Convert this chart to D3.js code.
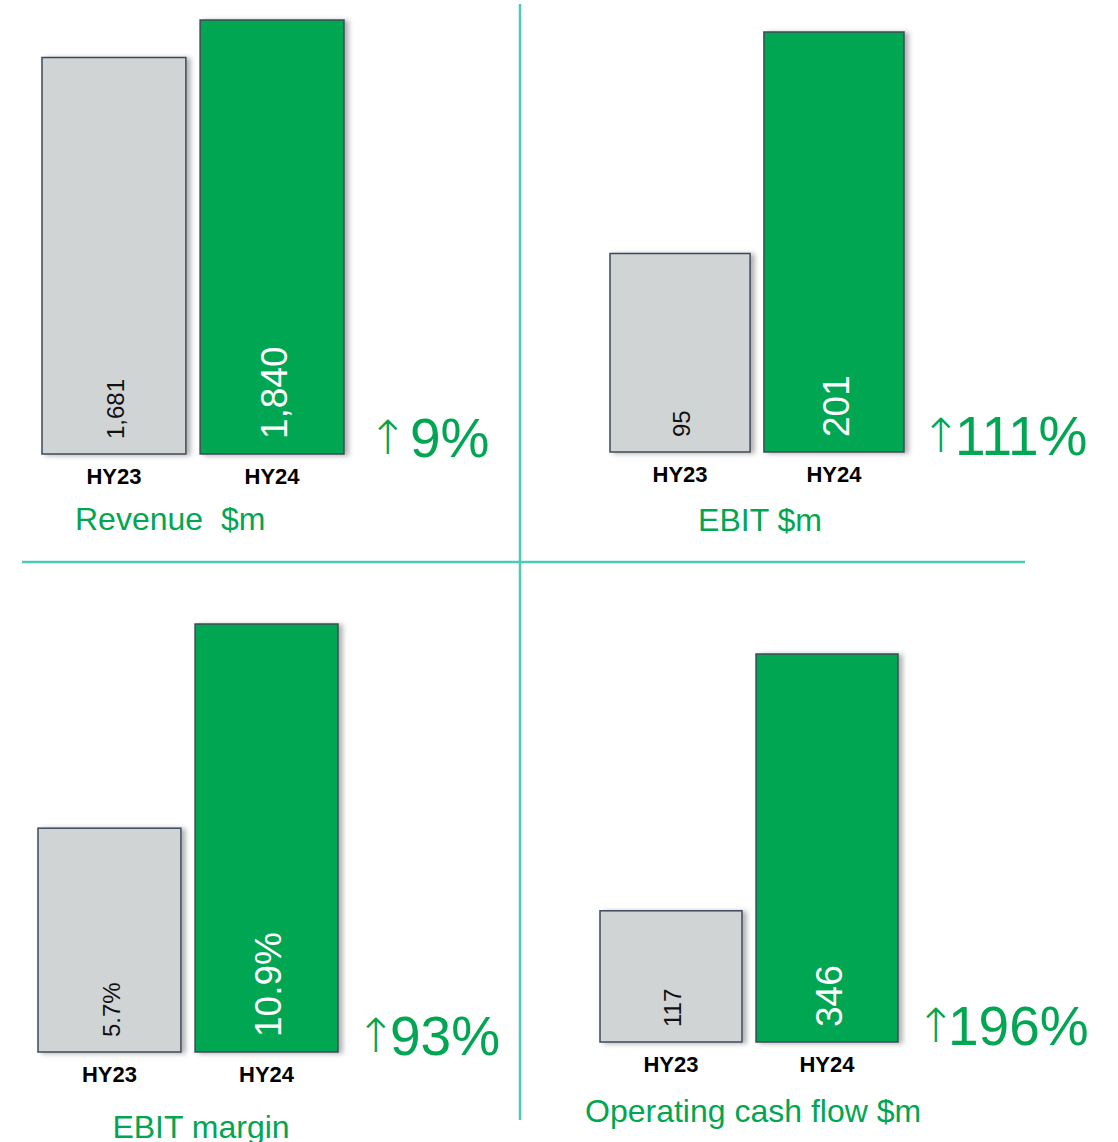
<!DOCTYPE html>
<html lang="en">
<head>
  <meta charset="UTF-8">
  <title>HY24 key metrics</title>
  <script src="https://d3js.org/d3.v7.min.js"></script>
  <style>
    body { margin: 0; background: #fff; }
    svg { display: block; font-family: "Liberation Sans", Arial, sans-serif; }
    .cat { font-size: 22px; font-weight: bold; fill: #000; }
    .title { font-size: 32px; fill: #00a651; white-space: pre; }
    .growth { font-size: 55px; fill: #00a651; }
    .arrow { font-family: "DejaVu Sans", sans-serif; font-size: 47px; font-weight: 300; }
    .divider { stroke: #4ec9b8; stroke-width: 2.5px; }
  </style>
</head>
<body>
  <svg width="1118" height="1142"></svg>

  <script>
    // data
    const periods = ["HY23", "HY24"];
    const revenue = [1681, 1840];
    const ebit = [95, 201];
    const ebitMargin = [5.7, 10.9];
    const cashFlow = [117, 346];
    const titles = ["Revenue  $m", "EBIT $m", "EBIT margin", "Operating cash flow $m"];
    const growth = ["9%", "111%", "93%", "196%"];

    const width = 1118, height = 1142;
    const svg = d3.select("svg").attr("width", width).attr("height", height);

    const defs = svg.append("defs");
    defs.append("filter")
        .attr("id", "shadow")
        .attr("x", "-10%").attr("y", "-10%")
        .attr("width", "130%").attr("height", "120%")
      .append("feDropShadow")
        .attr("dx", 4).attr("dy", 1)
        .attr("stdDeviation", 2.5)
        .attr("flood-color", "#000")
        .attr("flood-opacity", 0.3);

    // layout of each quadrant (pixels)
    const panels = [
      { values: revenue, fmt: d3.format(","), x0: 42, x1: 344, base: 454, top: 20,
        title: titles[0], tx: 75, ty: 530, anchor: "start", growth: growth[0], gx: 368, gap: 42 },
      { values: ebit, fmt: d3.format("d"), x0: 610, x1: 904, base: 452, top: 32,
        title: titles[1], tx: 760, ty: 531, anchor: "middle", growth: growth[1], gx: 921, gap: 34 },
      { values: ebitMargin, fmt: d => d3.format(".1f")(d) + "%", x0: 38, x1: 338, base: 1052, top: 624,
        title: titles[2], tx: 201, ty: 1138, anchor: "middle", growth: growth[2], gx: 356, gap: 34 },
      { values: cashFlow, fmt: d3.format("d"), x0: 600, x1: 898, base: 1042, top: 654,
        title: titles[3], tx: 585, ty: 1122, anchor: "start", growth: growth[3], gx: 916, gap: 32 }
    ];

    // dividers
    svg.append("line").attr("class", "divider")
       .attr("x1", 520).attr("x2", 520).attr("y1", 4).attr("y2", 1120);
    svg.append("line").attr("class", "divider")
       .attr("x1", 22).attr("x2", 1025).attr("y1", 562).attr("y2", 562);

    panels.forEach(p => {
      const g = svg.append("g");
      const x = d3.scaleBand().domain(periods).range([p.x0, p.x1]).paddingInner(0.09);
      const y = d3.scaleLinear().domain([0, d3.max(p.values)]).range([p.base, p.top]);
      const rows = periods.map((k, i) => ({ k, v: p.values[i], cur: i === 1 }));

      g.selectAll("rect")
       .data(rows)
       .join("rect")
         .attr("x", d => x(d.k))
         .attr("y", d => y(d.v))
         .attr("width", x.bandwidth())
         .attr("height", d => y(0) - y(d.v))
         .attr("fill", d => d.cur ? "#00a651" : "#d1d4d5")
         .attr("stroke", "#3e4a59")
         .attr("stroke-width", 1.5)
         .attr("filter", "url(#shadow)");

      // rotated value labels
      g.selectAll(".val")
       .data(rows)
       .join("text")
         .attr("class", "val")
         .attr("transform", d => `translate(${x(d.k) + x.bandwidth() / 2 + 2}, ${y(0) - 15}) rotate(-90)`)
         .attr("dy", "0.35em")
         .style("font-size", d => d.cur ? "37px" : "24px")
         .style("fill", d => d.cur ? "#fff" : "#111")
         .text(d => p.fmt(d.v));

      // category axis labels
      g.selectAll(".cat")
       .data(rows)
       .join("text")
         .attr("class", "cat")
         .attr("x", d => x(d.k) + x.bandwidth() / 2)
         .attr("y", p.base + 30)
         .attr("text-anchor", "middle")
         .text(d => d.k);

      g.append("text")
       .attr("class", "title")
       .attr("x", p.tx).attr("y", p.ty)
       .attr("text-anchor", p.anchor)
       .text(p.title);

      const gt = g.append("text")
       .attr("class", "growth")
       .attr("x", p.gx).attr("y", p.base + 3);
      gt.append("tspan").attr("class", "arrow").attr("dy", -3).text("\u2191");
      gt.append("tspan").attr("x", p.gx + p.gap).attr("dy", 3).text(p.growth);
    });
  </script>
</body>
</html>
